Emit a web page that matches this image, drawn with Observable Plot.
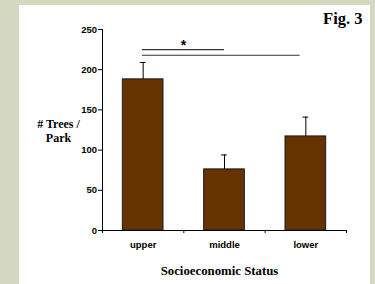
<!DOCTYPE html>
<html>
<head>
<meta charset="utf-8">
<script src="https://cdn.jsdelivr.net/npm/d3@7"></script>
<script src="https://cdn.jsdelivr.net/npm/@observablehq/plot@0.6"></script>
<style>
  html, body { margin: 0; padding: 0; }
  body { width: 375px; height: 284px; background: #d4d8bf; position: relative; overflow: hidden; }
  #panel { position: absolute; left: 19px; top: 5px; width: 351px; height: 279px; background: #ffffff; }
  #chart { position: absolute; left: 0; top: 0; }
  #chart svg { background: transparent; }
</style>
</head>
<body>
<div id="panel"></div>
<div id="chart"></div>
<script>
// --- data ---
const categories = ["upper", "middle", "lower"];
const means = [188, 76, 117];
const errors = [21, 18, 24];
const yTicks = [0, 50, 100, 150, 200, 250];
// significance brackets (x in category-index units, y in data units)
const sigX1 = [0.49, 0.49];
const sigX2 = [1.5, 2.43];
const sigY = [225, 218];
const sigLabel = "*";
const yTitle = "# Trees /\nPark";
const xTitle = "Socioeconomic Status";
const figLabel = "Fig. 3";

const rows = categories.map((c, i) => ({cat: c, i, mean: means[i], err: errors[i]}));
const brackets = sigX1.map((x1, k) => ({x1, x2: sigX2[k], y: sigY[k]}));
const capHalf = 0.035;
const serif = "'Liberation Serif', 'Times New Roman', serif";

const chart = Plot.plot({
  width: 375,
  height: 284,
  marginLeft: 102,
  marginRight: 29,
  marginTop: 29,
  marginBottom: 54,
  style: {fontFamily: "'Liberation Sans', Arial, sans-serif", fontWeight: "bold", fontSize: "9.5px", color: "#000", background: "transparent"},
  x: {domain: [0, categories.length], axis: null},
  y: {domain: [0, 250], axis: null},
  marks: [
    Plot.rectY(rows, {x1: d => d.i + 0.25, x2: d => d.i + 0.75, y1: 0, y2: "mean", fill: "#663300", stroke: "#1a1a1a", strokeWidth: 1}),
    Plot.ruleX(rows, {x: d => d.i + 0.5, y1: "mean", y2: d => d.mean + d.err, stroke: "#000", strokeWidth: 1}),
    Plot.ruleY(rows, {y: d => d.mean + d.err, x1: d => d.i + 0.5 - capHalf, x2: d => d.i + 0.5 + capHalf, stroke: "#000", strokeWidth: 1}),
    Plot.ruleY(brackets, {y: "y", x1: "x1", x2: "x2", stroke: "#333", strokeWidth: 1.1}),
    Plot.text([sigLabel], {x: (brackets[0].x1 + brackets[0].x2) / 2, y: brackets[0].y, text: d => d, lineAnchor: "bottom", dy: 0, fontSize: 14, fontWeight: "bold"}),
    Plot.axisY({ticks: yTicks, tickSize: 4, tickPadding: 1.5, tickFormat: d => d, fontSize: 9.5}),
    Plot.axisX({ticks: d3.range(categories.length + 1), tickSize: 3, tickFormat: () => ""}),
    Plot.ruleX([0], {stroke: "#000", strokeWidth: 1}),
    Plot.ruleY([0], {stroke: "#000", strokeWidth: 1}),
    Plot.text(rows, {x: d => d.i + 0.5, y: 0, text: "cat", lineAnchor: "bottom", dy: 17, fontSize: 9.5}),
    Plot.text([yTitle], {frameAnchor: "left", text: d => d, dx: -44, dy: 0.5, textAnchor: "middle", lineHeight: 1.2, fontSize: 12, fontFamily: serif, fontWeight: "bold"}),
    Plot.text([xTitle], {frameAnchor: "bottom", text: d => d, dx: -5, dy: 44.3, lineAnchor: "bottom", textAnchor: "middle", fontSize: 12.8, fontFamily: serif, fontWeight: "bold"}),
    Plot.text([figLabel], {frameAnchor: "top-right", text: d => d, dx: 16, dy: -6, lineAnchor: "bottom", textAnchor: "end", fontSize: 16.5, fontFamily: serif, fontWeight: "bold"})
  ]
});
document.getElementById("chart").appendChild(chart);
</script>
</body>
</html>
